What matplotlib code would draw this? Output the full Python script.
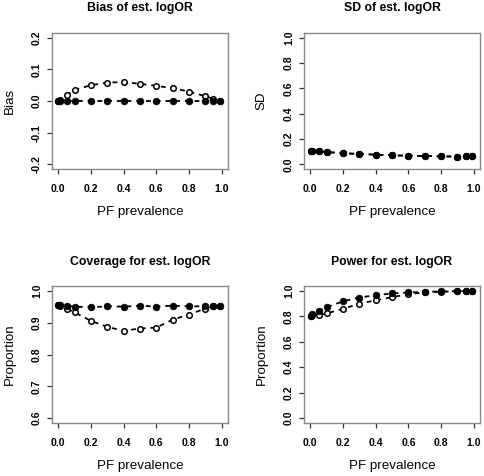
import matplotlib
matplotlib.use("Agg")
import matplotlib.pyplot as plt

plt.rcParams['font.family'] = ['Liberation Sans', 'DejaVu Sans']
plt.rcParams['lines.scale_dashes'] = False

# PF prevalence values
prevalence = [0.001, 0.01, 0.05, 0.1, 0.2, 0.3, 0.4, 0.5, 0.6, 0.7, 0.8, 0.9, 0.95, 0.99]

# Series: open circles (method A), filled circles (method B)
bias_open = [0.0, 0.004, 0.019, 0.035, 0.050, 0.058, 0.060, 0.054, 0.048, 0.040, 0.030, 0.015, 0.007, 0.001]
bias_filled = [0.0, 0.0, -0.001, 0.0, 0.0, 0.0, 0.0, 0.0, 0.0, 0.0, 0.0, 0.0, 0.0, 0.0]

sd_open = [0.108, 0.107, 0.103, 0.097, 0.087, 0.082, 0.076, 0.071, 0.068, 0.066, 0.063, 0.061, 0.062, 0.063]
sd_filled = [0.108, 0.107, 0.103, 0.097, 0.087, 0.082, 0.076, 0.071, 0.068, 0.066, 0.063, 0.061, 0.062, 0.063]

cov_open = [0.955, 0.952, 0.945, 0.933, 0.906, 0.887, 0.875, 0.882, 0.885, 0.910, 0.926, 0.945, 0.952, 0.953]
cov_filled = [0.956, 0.955, 0.953, 0.951, 0.949, 0.952, 0.951, 0.954, 0.951, 0.954, 0.952, 0.952, 0.953, 0.953]

pow_open = [0.800, 0.808, 0.810, 0.824, 0.861, 0.900, 0.928, 0.952, 0.976, 0.989, 0.995, 0.998, 0.999, 1.000]
pow_filled = [0.800, 0.818, 0.840, 0.872, 0.920, 0.949, 0.968, 0.981, 0.989, 0.995, 0.997, 0.999, 1.000, 1.000]

titles = ["Bias of est. logOR", "SD of est. logOR", "Coverage for est. logOR", "Power for est. logOR"]
ylabels = ["Bias", "SD", "Proportion", "Proportion"]
xlabel = "PF prevalence"
x_ticks = [0.0, 0.2, 0.4, 0.6, 0.8, 1.0]
y_ticks = [
    [-0.2, -0.1, 0.0, 0.1, 0.2],
    [0.0, 0.2, 0.4, 0.6, 0.8, 1.0],
    [0.6, 0.7, 0.8, 0.9, 1.0],
    [0.0, 0.2, 0.4, 0.6, 0.8, 1.0],
]
series = [
    (bias_open, bias_filled),
    (sd_open, sd_filled),
    (cov_open, cov_filled),
    (pow_open, pow_filled),
]

W, H = 484, 476
fig = plt.figure(figsize=(W / 100, H / 100), dpi=100)

# axes positions in pixels: left, top, right, bottom
boxes = [
    (51.8, 32.6, 228.2, 169.4),
    (303.8, 32.6, 480.3, 169.4),
    (51.8, 286.0, 228.2, 423.1),
    (303.8, 286.0, 480.3, 423.1),
]

for i in range(4):
    l, t, r, b = boxes[i]
    ax = fig.add_axes([l / W, 1 - b / H, (r - l) / W, (b - t) / H])
    yo, yf = series[i]
    ax.plot(prevalence, yo, linestyle=(0, (3.5, 3.5)), color='black', lw=1.3,
            marker='o', markersize=4.0, markerfacecolor='white', markeredgecolor='black',
            markeredgewidth=1.1, zorder=3)
    ax.plot(prevalence, yf, linestyle=(0, (3.5, 3.5)), color='black', lw=1.3,
            marker='o', markersize=4.8, markerfacecolor='black', markeredgecolor='black',
            markeredgewidth=0.5, zorder=4)
    yt = y_ticks[i]
    lo, hi = yt[0], yt[-1]
    pad = (hi - lo) * 0.04
    ax.set_ylim(lo - pad, hi + pad)
    ax.set_xlim(-0.04, 1.04)
    ax.set_xticks(x_ticks)
    ax.set_xticklabels([f"{v:.1f}" for v in x_ticks], fontsize=7.5, fontweight='bold')
    ax.set_yticks(yt)
    ax.set_yticklabels([f"{v:.1f}" for v in yt], fontsize=7.5, fontweight='bold',
                       rotation=90, va='center')
    for s in ax.spines.values():
        s.set_color('#8a8a8a')
        s.set_linewidth(1.0)
    ax.tick_params(axis='both', direction='out', length=3.6, width=0.9, color='#333333')
    ax.tick_params(axis='x', pad=7)
    ax.tick_params(axis='y', pad=3.5)
    ax.annotate(titles[i], xy=(0.5, 1), xycoords='axes fraction',
                xytext=(0, 17.5), textcoords='offset points',
                ha='center', va='center', fontsize=8.8, fontweight='bold')
    ax.annotate(xlabel, xy=(0.5, 0), xycoords='axes fraction',
                xytext=(0, -31), textcoords='offset points',
                ha='center', va='center', fontsize=9.6)
    ax.annotate(ylabels[i], xy=(0, 0.5), xycoords='axes fraction',
                xytext=(-30.5, 0), textcoords='offset points',
                ha='center', va='center', fontsize=9.6, rotation=90)

fig.savefig("out.png", dpi=100, facecolor='white')
